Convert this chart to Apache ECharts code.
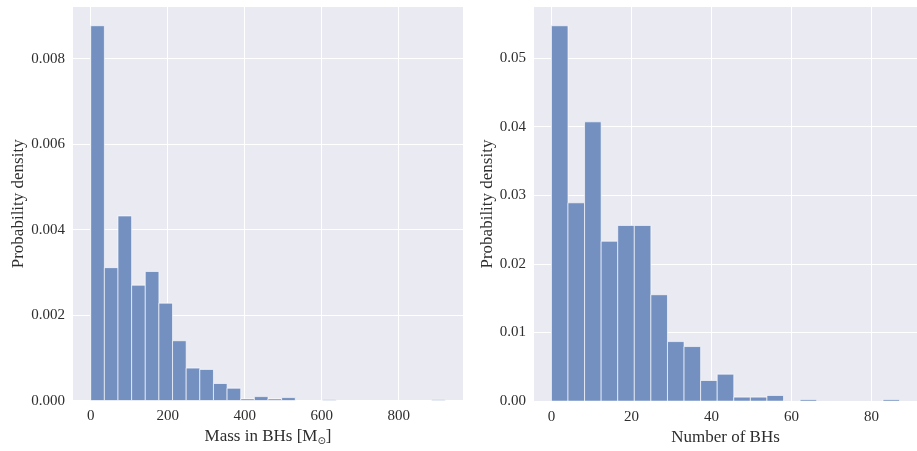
<!DOCTYPE html>
<html>
<head>
<meta charset="utf-8">
<title>Black hole mass and number distributions</title>
<script src="https://cdn.jsdelivr.net/npm/echarts@6/dist/echarts.min.js"></script>
<style>
  html, body { margin: 0; padding: 0; background: #ffffff; }
  #chart { width: 917px; height: 451px; }
</style>
</head>
<body>
<div id="chart"></div>
<script>
// Histogram of total black-hole mass (probability density per bin)
const massBinStart = 0;
const massBinWidth = 35.42;
const massDensity = [
  0.00877, 0.00311, 0.00432, 0.00270, 0.00302, 0.00228, 0.00140, 0.00076, 0.00073,
  0.00040, 0.00029, 0.00004, 0.000093, 0.00004, 0.00007, 0, 0, 0.000028,
  0, 0, 0, 0, 0, 0, 0, 0.000028
];
const massTicks = [0, 200, 400, 600, 800];
const massDensityTicks = [0, 0.002, 0.004, 0.006, 0.008];

// Histogram of the number of black holes (probability density per bin)
const countBinStart = 0;
const countBinWidth = 4.143;
const countDensity = [
  0.0547, 0.0289, 0.0407, 0.0233, 0.0256, 0.0256, 0.0155, 0.00867, 0.00795,
  0.0030, 0.00392, 0.00058, 0.00058, 0.00082, 0, 0.00024, 0, 0, 0, 0, 0.00024
];
const countTicks = [0, 20, 40, 60, 80];
const countDensityTicks = [0, 0.01, 0.02, 0.03, 0.04, 0.05];

const BAR_FILL = '#7390c0';
const BAR_EDGE = 'rgba(255,255,255,0.8)';
const PANEL_BG = '#eaeaf2';
const TEXT = '#2e2e2e';
const FONT = '"Liberation Serif", "DejaVu Serif", serif';

function toBins(start, width, density) {
  const rows = [];
  density.forEach((d, i) => {
    if (d > 0) rows.push([start + i * width, start + (i + 1) * width, d]);
  });
  return rows;
}

function renderBar(params, api) {
  const top = api.coord([api.value(0), api.value(2)]);
  const base = api.coord([api.value(1), 0]);
  return {
    type: 'rect',
    shape: { x: top[0], y: top[1], width: base[0] - top[0], height: base[1] - top[1] },
    style: { fill: BAR_FILL, stroke: BAR_EDGE, lineWidth: 0.8 }
  };
}

function padRange(lo, hi) {
  const pad = (hi - lo) * 0.05;
  return [lo - pad, hi + pad];
}

const massData = toBins(massBinStart, massBinWidth, massDensity);
const countData = toBins(countBinStart, countBinWidth, countDensity);
const massX = padRange(massBinStart, massBinStart + massDensity.length * massBinWidth);
const countX = padRange(countBinStart, countBinStart + countDensity.length * countBinWidth);
const massYMax = Math.max(...massDensity) * 1.05;
const countYMax = Math.max(...countDensity) * 1.05;

const labelStyle = { color: TEXT, fontFamily: FONT, fontSize: 15 };
const splitStyle = { show: true, lineStyle: { color: '#ffffff', width: 1 } };

function xAxis(gridIndex, range, ticks, name) {
  return {
    type: 'value', gridIndex, min: range[0], max: range[1],
    name, nameLocation: 'middle', nameGap: 24,
    nameTextStyle: {
      color: TEXT, fontFamily: FONT, fontSize: 17,
      rich: { sub: { color: TEXT, fontFamily: '"DejaVu Sans", sans-serif', fontSize: 10, verticalAlign: 'bottom', padding: [8, 0, 0, 0] } }
    },
    axisLine: { show: false },
    axisTick: { show: false, customValues: ticks },
    axisLabel: { ...labelStyle, margin: 8, customValues: ticks, formatter: v => String(v) },
    splitLine: splitStyle
  };
}

function yAxis(gridIndex, max, ticks, digits, gap) {
  return {
    type: 'value', gridIndex, min: 0, max,
    name: 'Probability density', nameLocation: 'middle', nameGap: gap,
    nameTextStyle: { color: TEXT, fontFamily: FONT, fontSize: 17 },
    axisLine: { show: false },
    axisTick: { show: false, customValues: ticks },
    axisLabel: { ...labelStyle, margin: 8, customValues: ticks, formatter: v => v.toFixed(digits) },
    splitLine: splitStyle
  };
}

const chart = echarts.init(document.getElementById('chart'), null, { renderer: 'canvas' });
chart.setOption({
  animation: false,
  backgroundColor: '#ffffff',
  grid: [
    { left: 73, top: 7, width: 390, height: 396, show: true, backgroundColor: PANEL_BG, borderWidth: 0 },
    { left: 534, top: 7, width: 391, height: 396, show: true, backgroundColor: PANEL_BG, borderWidth: 0 }
  ],
  xAxis: [
    xAxis(0, massX, massTicks, 'Mass in BHs [M{sub|⊙}]'),
    xAxis(1, countX, countTicks, 'Number of BHs')
  ],
  yAxis: [
    yAxis(0, massYMax, massDensityTicks, 3, 44),
    yAxis(1, countYMax, countDensityTicks, 2, 36)
  ],
  series: [
    { type: 'custom', xAxisIndex: 0, yAxisIndex: 0, renderItem: renderBar, data: massData, encode: { x: [0, 1], y: 2 }, clip: true },
    { type: 'custom', xAxisIndex: 1, yAxisIndex: 1, renderItem: renderBar, data: countData, encode: { x: [0, 1], y: 2 }, clip: true }
  ]
});
</script>
</body>
</html>
